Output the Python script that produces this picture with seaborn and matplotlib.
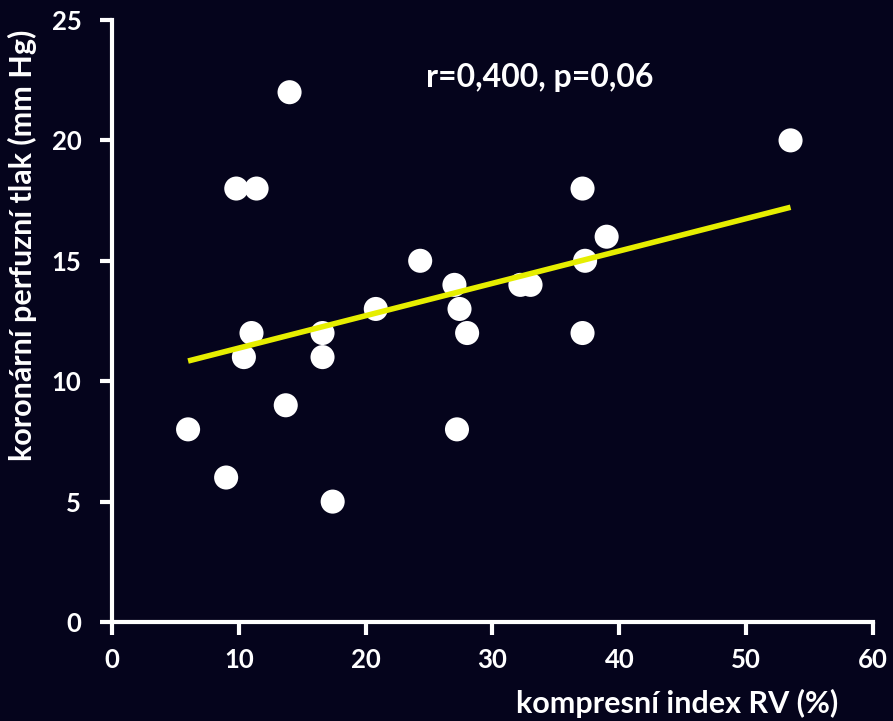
import matplotlib
matplotlib.use("Agg")
import matplotlib.pyplot as plt
import seaborn as sns
import numpy as np
import pandas as pd

# data
kompresni_index = [6.0, 9.0, 9.8, 11.4, 10.4, 11.0, 14.0, 13.7, 16.6, 16.6, 17.4,
                   20.8, 24.3, 27.0, 27.4, 27.2, 28.0, 32.2, 33.0, 37.1, 37.3, 37.1,
                   39.0, 53.5]
perfuzni_tlak = [8, 6, 18, 18, 11, 12, 22, 9, 12, 11, 5,
                 13, 15, 14, 13, 8, 12, 14, 14, 18, 15, 12,
                 16, 20]
x_ticks = [0, 10, 20, 30, 40, 50, 60]
y_ticks = [0, 5, 10, 15, 20, 25]
annotation = "r=0,400, p=0,06"
x_label = "kompresní index RV (%)"
y_label = "koronární perfuzní tlak (mm Hg)"

df = pd.DataFrame({"x": kompresni_index, "y": perfuzni_tlak})

sns.set_theme(style="ticks")
plt.rcParams["font.family"] = ["Lato", "DejaVu Sans"]
plt.rcParams["font.weight"] = "bold"

bg = "#05041c"
fig = plt.figure(figsize=(8.93, 7.21), dpi=100, facecolor=bg)
ax = fig.add_axes([0.1254, 0.1373, 0.8522, 0.835])
ax.set_facecolor(bg)

sns.regplot(data=df, x="x", y="y", ax=ax, ci=None, truncate=True,
            scatter_kws=dict(s=300, color="white", edgecolor="none", alpha=1, zorder=2),
            line_kws=dict(color="#e6ee00", lw=4, zorder=3, solid_capstyle="butt"))

ax.set_xlim(0, 60)
ax.set_ylim(0, 25)
ax.set_xticks(x_ticks)
ax.set_yticks(y_ticks)
ax.set_xticklabels([str(t) for t in x_ticks], fontsize=18.5, fontweight="bold", color="white")
ax.set_yticklabels([str(t) for t in y_ticks], fontsize=18.5, fontweight="bold", color="white")
ax.tick_params(axis="both", colors="white", width=3, length=9, direction="out")
ax.tick_params(axis="x", pad=10)
ax.tick_params(axis="y", pad=13)
for side in ["top", "right"]:
    ax.spines[side].set_visible(False)
for side in ["left", "bottom"]:
    ax.spines[side].set_color("white")
    ax.spines[side].set_linewidth(3)

ax.set_xlabel(x_label, fontsize=22, fontweight="bold", color="white", va="center", ha="center")
ax.xaxis.set_label_coords(0.742, -0.1346)
ax.set_ylabel(y_label, fontsize=22, fontweight="bold", color="white", va="center", ha="center")
ax.yaxis.set_label_coords(-0.117, 0.626)

ax.text(0.562, 0.904, annotation, transform=ax.transAxes, ha="center", va="center",
        fontsize=23, fontweight="bold", color="white")

fig.savefig("out.png", dpi=100, facecolor=bg)
